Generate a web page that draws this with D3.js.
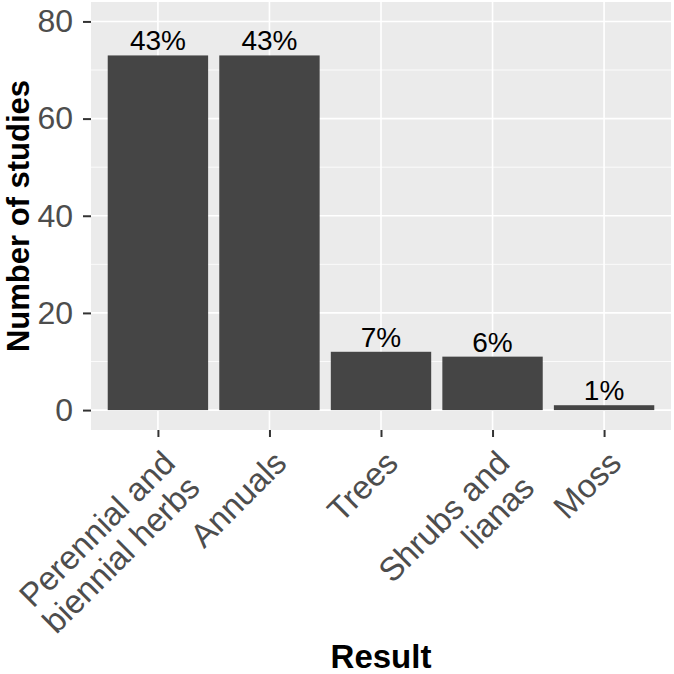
<!DOCTYPE html>
<html>
<head>
<meta charset="utf-8">
<script src="https://cdn.jsdelivr.net/npm/d3@7"></script>
<style>
  body { margin: 0; background: #fff; }
  svg { display: block; font-family: "Liberation Sans", Arial, sans-serif; }
</style>
</head>
<body>
<div id="chart"></div>
<script>
// data
const categories = ["Perennial and\nbiennial herbs", "Annuals", "Trees", "Shrubs and\nlianas", "Moss"];
const counts = [73, 73, 12, 11, 1];
const pctLabels = ["43%", "43%", "7%", "6%", "1%"];
const yTicks = [0, 20, 40, 60, 80];
const yMinor = [10, 30, 50, 70];

const width = 674, height = 674;
const panel = {left: 91, right: 671, top: 2, bottom: 430};

const svg = d3.select("#chart").append("svg")
    .attr("width", width)
    .attr("height", height);

const data = categories.map(function(c, i) {
    return {cat: c, n: counts[i], lab: pctLabels[i]};
});

// scales
const xScale = d3.scalePoint()
    .domain(categories)
    .range([panel.left, panel.right])
    .padding(0.6);
const barW = xScale.step() * 0.9;

const yScale = d3.scaleLinear()
    .domain([-4.1, 84])
    .range([panel.bottom, panel.top]);

// panel background
svg.append("rect")
    .attr("x", panel.left).attr("y", panel.top)
    .attr("width", panel.right - panel.left)
    .attr("height", panel.bottom - panel.top)
    .attr("fill", "#ebebeb");

// grid lines
svg.append("g").selectAll("line").data(yMinor).enter().append("line")
    .attr("x1", panel.left).attr("x2", panel.right)
    .attr("y1", d => yScale(d)).attr("y2", d => yScale(d))
    .attr("stroke", "#fff").attr("stroke-width", 0.8);

svg.append("g").selectAll("line").data(yTicks).enter().append("line")
    .attr("x1", panel.left).attr("x2", panel.right)
    .attr("y1", d => yScale(d)).attr("y2", d => yScale(d))
    .attr("stroke", "#fff").attr("stroke-width", 1.6);

svg.append("g").selectAll("line").data(categories).enter().append("line")
    .attr("x1", d => xScale(d)).attr("x2", d => xScale(d))
    .attr("y1", panel.top).attr("y2", panel.bottom)
    .attr("stroke", "#fff").attr("stroke-width", 1.6);

// bars
svg.append("g").selectAll("rect").data(data).enter().append("rect")
    .attr("x", d => xScale(d.cat) - barW / 2)
    .attr("y", d => yScale(d.n))
    .attr("width", barW)
    .attr("height", d => yScale(0) - yScale(d.n))
    .attr("fill", "#454545");

// percent labels
svg.append("g").selectAll("text").data(data).enter().append("text")
    .attr("x", d => xScale(d.cat))
    .attr("y", d => yScale(d.n) - 5)
    .attr("text-anchor", "middle")
    .attr("font-size", 28)
    .attr("fill", "#000")
    .text(d => d.lab);

// y axis
const yAxis = svg.append("g")
    .attr("transform", `translate(${panel.left},0)`)
    .call(d3.axisLeft(yScale).tickValues(yTicks).tickSize(8).tickPadding(10));
yAxis.select(".domain").remove();
yAxis.selectAll(".tick line").attr("stroke", "#333").attr("stroke-width", 2);
yAxis.selectAll(".tick text")
    .attr("font-size", 32)
    .attr("font-family", "Liberation Sans, Arial, sans-serif")
    .attr("fill", "#4d4d4d");

// x axis
const xAxis = svg.append("g")
    .attr("transform", `translate(0,${panel.bottom})`)
    .call(d3.axisBottom(xScale).tickSize(7).tickFormat(""));
xAxis.select(".domain").remove();
xAxis.selectAll(".tick line").attr("stroke", "#333").attr("stroke-width", 2);

// rotated category labels
const xLabs = svg.append("g").selectAll("g").data(categories).enter().append("g")
    .attr("transform", d => `translate(${xScale(d) + 2},448) rotate(-45)`);
xLabs.append("text")
    .attr("text-anchor", "end")
    .attr("font-size", 33)
    .attr("fill", "#4d4d4d")
    .each(function(d) {
        const lines = d.split("\n");
        const t = d3.select(this);
        lines.forEach(function(line, i) {
            t.append("tspan")
                .attr("x", 0)
                .attr("dy", i === 0 ? 24 : 35)
                .text(line);
        });
    });

// axis titles
svg.append("text")
    .attr("x", (panel.left + panel.right) / 2)
    .attr("y", 668)
    .attr("text-anchor", "middle")
    .attr("font-size", 33)
    .attr("font-weight", "bold")
    .text("Result");

svg.append("text")
    .attr("transform", "rotate(-90)")
    .attr("x", -(panel.top + panel.bottom) / 2)
    .attr("y", 29)
    .attr("text-anchor", "middle")
    .attr("font-size", 31)
    .attr("font-weight", "bold")
    .text("Number of studies");
</script>
</body>
</html>
